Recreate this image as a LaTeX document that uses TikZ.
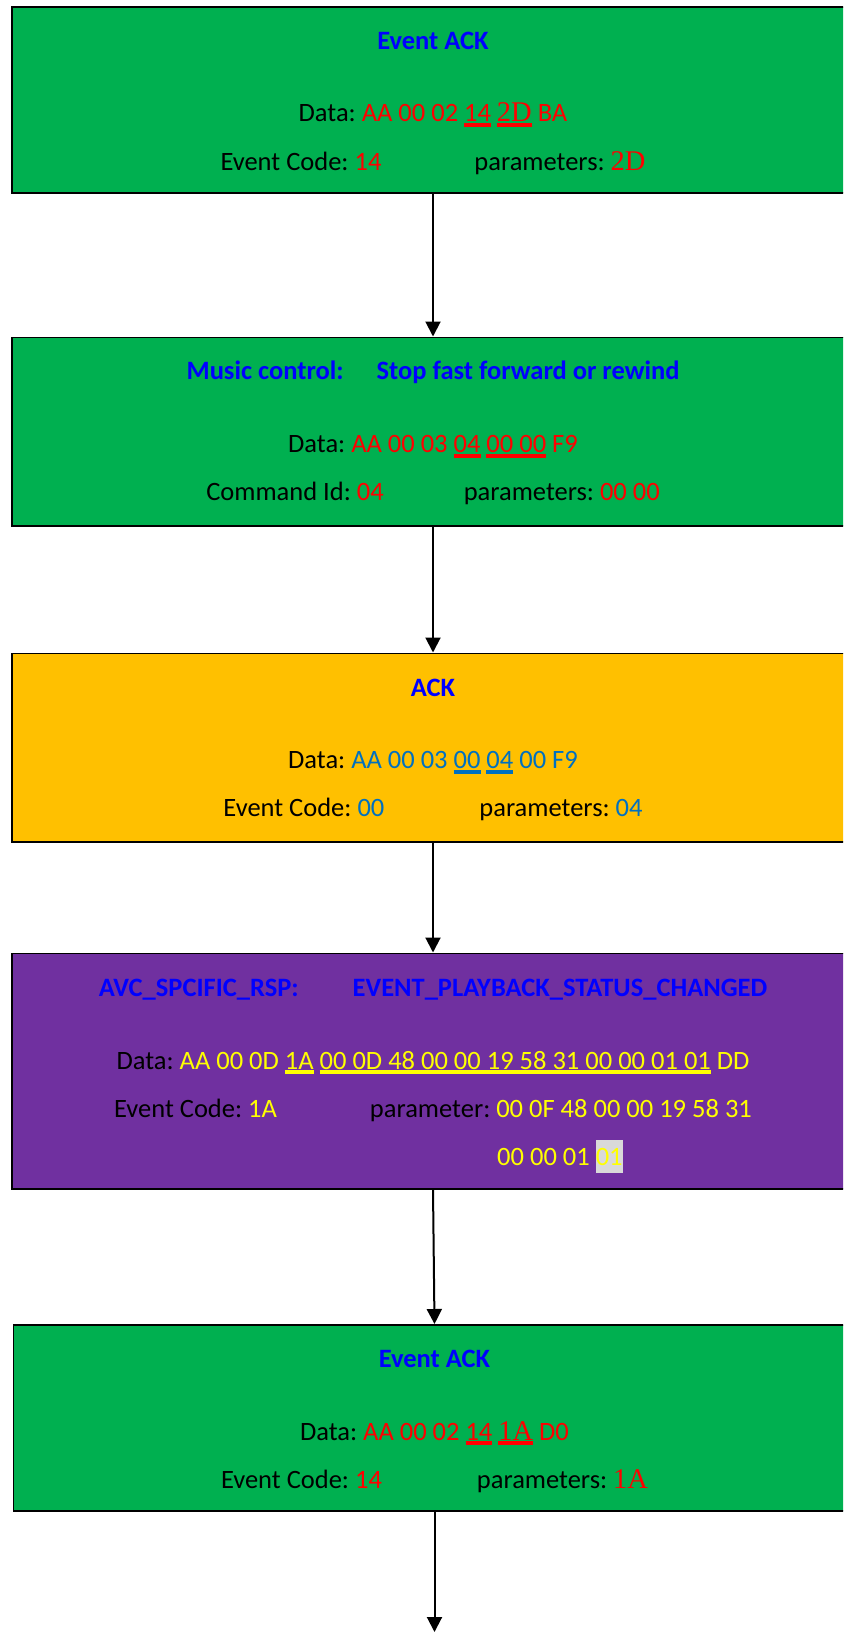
\documentclass[tikz,border=0pt]{standalone}
\usepackage{fontspec}
\setmainfont{Carlito}
\newfontfamily\tnr{Liberation Serif}
\usetikzlibrary{arrows.meta}
\frenchspacing
\definecolor{wgreen}{HTML}{00B050}
\definecolor{worange}{HTML}{FFC000}
\definecolor{wpurple}{HTML}{7030A0}
\definecolor{tblue}{HTML}{0000FF}
\definecolor{dblue}{HTML}{0070C0}
\definecolor{wred}{HTML}{FF0000}
\definecolor{wyel}{HTML}{FFFF00}
\definecolor{hlgray}{HTML}{D9D9D9}
\newcommand\bodysize{\fontsize{26.5bp}{31bp}\selectfont}
\newcommand\tnrs{\tnr\fontsize{28.5bp}{31bp}\selectfont}
\newsavebox\ulbx
\newcommand\ulin[1]{\sbox\ulbx{#1}\rlap{\rule[-5.2bp]{\wd\ulbx}{3.8bp}}\usebox\ulbx}
\newcommand\hlbox[1]{\sbox\ulbx{#1}\rlap{\color{hlgray}\rule[-7.5bp]{\wd\ulbx}{33bp}}\usebox\ulbx}
\tikzset{
  box/.style={draw=black, line width=1.6bp, rectangle, inner sep=0pt, minimum width=842bp, anchor=north},
  ttl/.style={anchor=base, inner sep=0pt, font=\bodysize\bfseries, text=tblue},
  ln/.style={anchor=base, inner sep=0pt, font=\bodysize, text=black},
  conn/.style={-{Triangle[width=15bp,length=15bp]}, line width=2bp, draw=black}
}
\begin{document}
\begin{tikzpicture}[x=1bp,y=-1bp]
\useasboundingbox (0,0) rectangle (843,1632);
\clip (0,0) rectangle (843,1632);
% boxes
\node[box, fill=wgreen, minimum height=186bp] (b1) at (433,6) {};
\node[box, fill=wgreen, minimum height=188.5bp] (b2) at (433,336.5) {};
\node[box, fill=worange, minimum height=188.5bp] (b3) at (433,652.5) {};
\node[box, fill=wpurple, minimum height=235.5bp] (b4) at (433,952.5) {};
\node[box, fill=wgreen, minimum height=186bp] (b5) at (434.5,1324) {};
% box 1
\node[ttl] (t1) at (433,49.3) {Event ACK};
\node[ln] (d1) at (433,121.7) {Data: {\color{wred}AA 00 02 \ulin{14} \ulin{\tnrs 2D} BA}};
\node[ln] (e1) at (433,170) {Event Code: {\color{wred}14}\hspace{93bp}parameters: {\color{wred}\tnrs 2D}};
% box 2
\node[ttl] (t2) at (433,379.8) {Music control:\hspace{33bp}Stop fast forward or rewind};
\node[ln] (d2) at (433,452.5) {Data: {\color{wred}AA 00 03 \ulin{04} \ulin{00 00} F9}};
\node[ln] (e2) at (433,500.5) {Command Id: {\color{wred}04}\hspace{80bp}parameters: {\color{wred}00 00}};
% box 3
\node[ttl] (t3) at (433,696) {ACK};
\node[ln] (d3) at (433,768.5) {Data: {\color{dblue}AA 00 03 \ulin{00} \ulin{04} 00 F9}};
\node[ln] (e3) at (433,816.5) {Event Code: {\color{dblue}00}\hspace{95bp}parameters: {\color{dblue}04}};
% box 4
\node[ttl] (t4) at (433,996) {AVC\_SPCIFIC\_RSP:\hspace{54bp}EVENT\_PLAYBACK\_STATUS\_CHANGED};
\node[ln] (d4) at (433,1069) {Data: {\color{wyel}AA 00 0D \ulin{1A} \ulin{00 0D 48 00 00 19 58 31 00 00 01 01} DD}};
\node[ln] (e4) at (433,1117) {Event Code: {\color{wyel}1A}\hspace{93bp}parameter: {\color{wyel}00 0F 48 00 00 19 58 31}};
\node[ln, anchor=base west, text=wyel] (f4) at (497,1165) {00 00 01 \hlbox{01}};
% box 5
\node[ttl] (t5) at (434.5,1367.3) {Event ACK};
\node[ln] (d5) at (434.5,1440) {Data: {\color{wred}AA 00 02 \ulin{14} \ulin{\tnrs 1A} D0}};
\node[ln] (e5) at (434.5,1488) {Event Code: {\color{wred}14}\hspace{95bp}parameters: {\color{wred}\tnrs 1A}};
% connectors
\coordinate (end) at (434.5,1632);
\draw[conn] (b1.south) -- (b2.north);
\draw[conn] (b2.south) -- (b3.north);
\draw[conn] (b3.south) -- (b4.north);
\draw[conn] (b4.south) -- (b5.north);
\draw[conn] (b5.south) -- (end);
\end{tikzpicture}
\end{document}
